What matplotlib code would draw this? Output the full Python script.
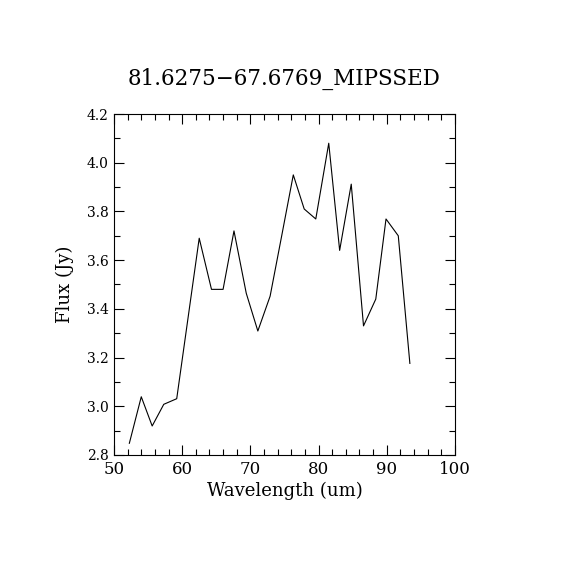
import matplotlib
matplotlib.use("Agg")
import matplotlib.pyplot as plt
from matplotlib.ticker import MultipleLocator

wavelength = [52.25, 54.0, 55.6, 57.3, 59.2, 62.5, 64.3, 66.0, 67.6, 69.4, 71.1,
              72.9, 74.6, 76.3, 77.9, 79.6, 81.5, 83.1, 84.8, 86.6, 88.4, 89.9,
              91.7, 93.4]
flux = [2.848, 3.039, 2.919, 3.008, 3.031, 3.690, 3.480, 3.480, 3.720, 3.464,
        3.309, 3.452, 3.700, 3.950, 3.810, 3.769, 4.080, 3.640, 3.912, 3.330,
        3.440, 3.769, 3.700, 3.176]
title = "81.6275\u221267.6769_MIPSSED"

plt.rcParams['font.family'] = ['DejaVu Serif']
fig = plt.figure(figsize=(5.7, 5.7), dpi=100)
ax = fig.add_axes([0.2, 0.2018, 0.598, 0.5982])
ax.plot(wavelength, flux, color='black', lw=0.8)
ax.set_xlim(50, 100)
ax.set_ylim(2.8, 4.2)
ax.xaxis.set_major_locator(MultipleLocator(10))
ax.xaxis.set_minor_locator(MultipleLocator(2))
ax.yaxis.set_major_locator(MultipleLocator(0.2))
ax.yaxis.set_minor_locator(MultipleLocator(0.1))
ax.tick_params(which='both', direction='in', top=True, right=True, width=0.8)
ax.tick_params(which='major', length=7)
ax.tick_params(which='minor', length=4)
ax.tick_params(axis='x', labelsize=12, pad=4)
ax.tick_params(axis='y', labelsize=10, pad=4)
ax.yaxis.set_major_formatter(matplotlib.ticker.FormatStrFormatter('%.1f'))
for s in ax.spines.values():
    s.set_linewidth(0.8)
ax.set_xlabel("Wavelength (um)", fontsize=13, labelpad=3)
ax.set_ylabel("Flux (Jy)", fontsize=13, labelpad=9)
ax.set_title(title, fontsize=15.5, pad=21)
fig.savefig("out.png", dpi=100)
